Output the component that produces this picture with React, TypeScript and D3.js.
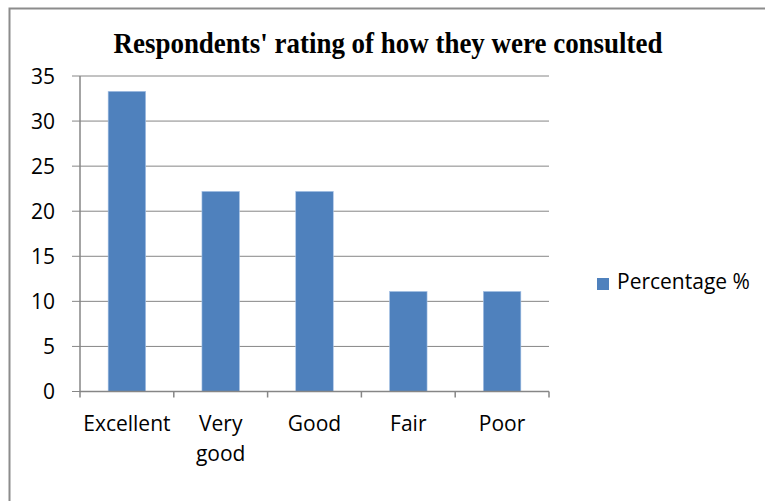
import React from "react";
import * as d3 from "d3";

const categories: string[][] = [["Excellent"], ["Very", "good"], ["Good"], ["Fair"], ["Poor"]];
const values: number[] = [33.3, 22.2, 22.2, 11.1, 11.1];
const yTicks: number[] = [0, 5, 10, 15, 20, 25, 30, 35];
const title = "Respondents' rating of how they were consulted";
const seriesName = "Percentage %";

const W = 765;
const H = 501;
const plot = { left: 80, right: 549, top: 76, bottom: 391.5 };
const barColor = "#4f81bd";
const gridColor = "#868686";
const font = "'Open Sans', sans-serif";

export default function App() {
  const keys = categories.map((c) => c.join(" "));
  const x = d3.scaleBand<string>().domain(keys).range([plot.left, plot.right]).paddingInner(0.6).paddingOuter(0.3);
  const xOuter = d3.scaleBand<string>().domain(keys).range([plot.left, plot.right]);
  const y = d3.scaleLinear().domain([0, 35]).range([plot.bottom, plot.top]);

  return (
    <svg width={W} height={H} style={{ position: "absolute", left: 0, top: 0, background: "#fff" }}>
      <rect x={9.5} y={8.5} width={W + 20} height={H + 20} fill="#fff" stroke="#8c8c8c" strokeWidth={2} />
      <text
        x={388}
        y={53}
        textAnchor="middle"
        fontFamily="'Liberation Serif', 'Times New Roman', serif"
        fontWeight="bold"
        fontSize={30}
        textLength={549}
        lengthAdjust="spacingAndGlyphs"
        fill="#000"
      >
        {title}
      </text>
      {yTicks.map((t) => (
        <g key={t}>
          <line x1={plot.left - 8} x2={plot.right} y1={y(t)} y2={y(t)} stroke={gridColor} strokeWidth={1} />
          <text x={55} y={y(t) + 7.5} textAnchor="end" fontFamily={font} fontSize={21} fill="#000">
            {t}
          </text>
        </g>
      ))}
      <line x1={plot.left} x2={plot.left} y1={plot.top} y2={plot.bottom} stroke={gridColor} strokeWidth={1.5} />
      {values.map((v, i) => (
        <rect
          key={keys[i]}
          x={x(keys[i])!}
          y={y(v)}
          width={x.bandwidth()}
          height={y(0) - y(v)}
          fill={barColor}
          stroke="#a9c3e6"
          strokeWidth={0.6}
        />
      ))}
      <line x1={plot.left} x2={plot.right} y1={plot.bottom} y2={plot.bottom} stroke={gridColor} strokeWidth={1.5} />
      {[...keys.map((k) => xOuter(k)!), plot.right].map((px, i) => (
        <line key={i} x1={px} x2={px} y1={plot.bottom} y2={plot.bottom + 6} stroke={gridColor} strokeWidth={1.5} />
      ))}
      {categories.map((lines, i) => (
        <text
          key={keys[i]}
          x={xOuter(keys[i])! + xOuter.bandwidth() / 2}
          y={430.5}
          textAnchor="middle"
          fontFamily={font}
          fontSize={21}
          fill="#000"
        >
          {lines.map((l, j) => (
            <tspan key={j} x={xOuter(keys[i])! + xOuter.bandwidth() / 2} dy={j === 0 ? 0 : 30}>
              {l}
            </tspan>
          ))}
        </text>
      ))}
      <rect x={597} y={278} width={12} height={12} fill={barColor} />
      <text x={617} y={289} fontFamily={font} fontSize={21} fill="#000">
        {seriesName}
      </text>
    </svg>
  );
}
